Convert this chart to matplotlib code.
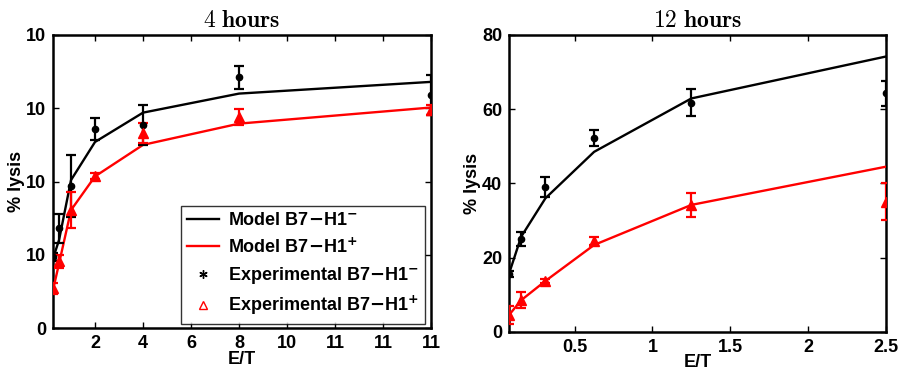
import numpy as np
import matplotlib
matplotlib.use("Agg")
import matplotlib.pyplot as plt
from matplotlib.lines import Line2D

plt.rcParams['font.family'] = ['Liberation Sans', 'DejaVu Sans']
plt.rcParams['font.weight'] = 'bold'
plt.rcParams['mathtext.fontset'] = 'dejavusans'

# 4 hours panel
et4 = [0.25, 0.5, 1, 2, 4, 8, 16]
model_neg4 = [9.5, 12.0, 20.2, 25.4, 29.4, 32.0, 33.6]
model_pos4 = [5.2, 8.8, 16.1, 20.7, 25.0, 27.9, 30.1]
exp_neg4 = [9.7, 13.6, 19.4, 27.1, 27.7, 34.2, 31.8]
err_neg4 = [0.6, 2.0, 4.2, 1.5, 2.7, 1.6, 2.7]
exp_pos4 = [5.4, 9.1, 16.1, 20.7, 26.6, 28.8, 29.8]
err_pos4 = [0.8, 0.9, 2.5, 0.4, 1.4, 1.1, 0.7]
xticks4 = [2, 4, 6, 8, 10, 12, 14, 16]
xticklabels4 = ['2', '4', '6', '8', '10', '11', '11', '11']
yticks4 = [0, 10, 20, 30, 40]
yticklabels4 = ['0', '10', '10', '10', '10']

# 12 hours panel
et12 = [0.078125, 0.15625, 0.3125, 0.625, 1.25, 2.5]
model_neg12 = [15.6, 25.6, 36.0, 48.5, 62.9, 74.2]
model_pos12 = [4.5, 8.5, 13.7, 23.4, 34.2, 44.5]
exp_neg12 = [15.6, 25.0, 38.9, 52.3, 61.8, 64.3]
err_neg12 = [0.8, 1.8, 2.7, 2.1, 3.6, 3.4]
exp_pos12 = [4.5, 8.5, 13.7, 24.5, 34.2, 35.1]
err_pos12 = [2.4, 2.2, 0.5, 1.0, 3.3, 5.1]
xticks12 = [0.5, 1, 1.5, 2, 2.5]
xticklabels12 = ['0.5', '1', '1.5', '2', '2.5']
yticks12 = [0, 20, 40, 60, 80]

fig = plt.figure(figsize=(9.05, 3.75), dpi=100)
ax1 = fig.add_axes([0.0586, 0.1253, 0.4177, 0.7814])
ax2 = fig.add_axes([0.5624, 0.1153, 0.4166, 0.7914])


def draw(ax, x, mn, mp, en, sn, ep, sp):
    ax.plot(x, mn, color='black', lw=1.7, zorder=3)
    ax.plot(x, mp, color='red', lw=1.7, zorder=3)
    ax.errorbar(x, en, yerr=sn, fmt='o', color='black', ms=4.5, capsize=3.5,
                elinewidth=1.6, capthick=1.6, zorder=4)
    ax.errorbar(x, ep, yerr=sp, fmt='^', color='red', ms=6.5, capsize=3.5,
                elinewidth=1.6, capthick=1.6, zorder=4)
    for s in ax.spines.values():
        s.set_linewidth(1.8)
    ax.tick_params(direction='in', top=True, right=True, length=4, width=1,
                   labelsize=13, pad=5)
    ax.set_xlabel('E/T', fontsize=13, fontweight='bold', labelpad=-1)
    ax.set_ylabel('% lysis', fontsize=13, fontweight='bold', labelpad=1)


draw(ax1, et4, model_neg4, model_pos4, exp_neg4, err_neg4, exp_pos4, err_pos4)
ax1.set_xlim(0.25, 16)
ax1.set_ylim(0, 40)
ax1.set_xticks(xticks4)
ax1.set_xticklabels(xticklabels4, fontweight='bold')
ax1.set_yticks(yticks4)
ax1.set_yticklabels(yticklabels4, fontweight='bold')
ax1.set_title(r'$\mathbf{4\ hours}$', fontsize=17, pad=6, math_fontfamily='cm')

draw(ax2, et12, model_neg12, model_pos12, exp_neg12, err_neg12, exp_pos12, err_pos12)
ax2.set_xlim(0.078125, 2.5)
ax2.set_ylim(0, 80)
ax2.set_xticks(xticks12)
ax2.set_xticklabels(xticklabels12, fontweight='bold')
ax2.set_yticks(yticks12)
ax2.set_yticklabels([str(v) for v in yticks12], fontweight='bold')
ax2.set_title(r'$\mathbf{12\ hours}$', fontsize=17, pad=6, math_fontfamily='cm')

handles = [
    Line2D([], [], color='black', lw=1.7),
    Line2D([], [], color='red', lw=1.7),
    Line2D([], [], color='black', marker=(6, 2, 0), ls='none', ms=6, mew=1),
    Line2D([], [], color='red', marker='^', ls='none', ms=6, mfc='none', mew=1),
]
labels = [r'Model B7$\mathbf{-}$H1$^{\mathbf{-}}$',
          r'Model B7$\mathbf{-}$H1$^{\mathbf{+}}$',
          r'Experimental B7$\mathbf{-}$H1$^{\mathbf{-}}$',
          r'Experimental B7$\mathbf{-}$H1$^{\mathbf{+}}$']
leg = ax1.legend(handles, labels, loc='lower right', bbox_to_anchor=(0.985, 0.015),
                 borderaxespad=0, fancybox=False, edgecolor='black',
                 prop={'size': 13, 'weight': 'bold'}, handlelength=1.8,
                 labelspacing=0.45, borderpad=0.35, handletextpad=0.5)
leg.get_frame().set_linewidth(1.0)

fig.savefig('out.png', dpi=100)
